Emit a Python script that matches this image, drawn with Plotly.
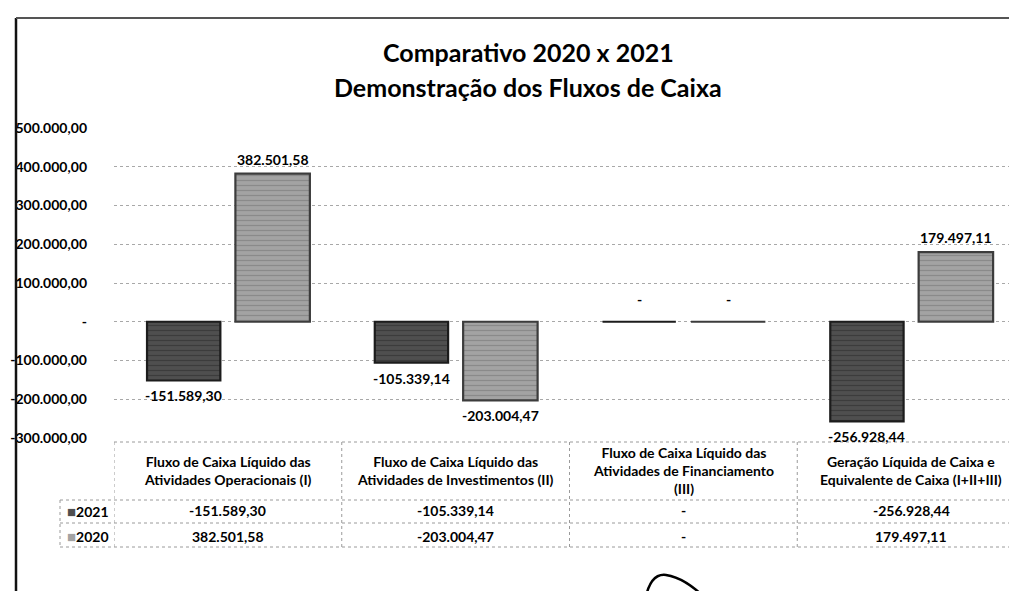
import plotly.graph_objects as go

# ---------------- data ----------------
categories = [
    "Fluxo de Caixa Líquido das<br>Atividades Operacionais (I)",
    "Fluxo de Caixa Líquido das<br>Atividades de Investimentos (II)",
    "Fluxo de Caixa Líquido das<br>Atividades de Financiamento<br>(III)",
    "Geração Líquida de Caixa e<br>Equivalente de Caixa (I+II+III)",
]
series_names = ["2021", "2020"]
values_2021 = [-151589.30, -105339.14, 0.0, -256928.44]
values_2020 = [382501.58, -203004.47, 0.0, 179497.11]
tick_values = [-300000, -200000, -100000, 0, 100000, 200000, 300000, 400000, 500000]
tick_labels = ["-300.000,00", "-200.000,00", "-100.000,00", "-", "100.000,00",
               "200.000,00", "300.000,00", "400.000,00", "500.000,00"]
title_lines = ["Comparativo 2020 x 2021", "Demonstração dos Fluxos de Caixa"]

# ---------------- layout helpers ----------------
W, H = 1017, 591
L, R, T, B = 106, 0, 120, 161
PW = W - L - R
PH = H - T - B
FONT = "Lato"


def yp(pix):
    """pixel row -> paper y"""
    return (H - B - pix) / PH


def xp(pix):
    """pixel column -> paper x"""
    return (pix - L) / PW


def fmt(v):
    if v == 0:
        return "-"
    s = f"{abs(v):,.2f}".replace(",", "X").replace(".", ",").replace("X", ".")
    return ("-" if v < 0 else "") + s


xs = list(range(len(categories)))
bar_specs = [
    dict(name=series_names[0], vals=values_2021, offset=-0.355, width=0.322,
         color="#4f4f4f", line="#1c1c1c", pat="#2e2e2e"),
    dict(name=series_names[1], vals=values_2020, offset=0.033, width=0.327,
         color="#a3a3a3", line="#3c3c3c", pat="#7a7a7a"),
]

fig = go.Figure()
for s in bar_specs:
    fig.add_trace(go.Bar(
        x=xs, y=s["vals"], name=s["name"], offset=s["offset"], width=s["width"],
        marker=dict(color=s["color"], line=dict(color=s["line"], width=2.2),
                    pattern=dict(shape="-", fgcolor=s["pat"], size=5, solidity=0.25,
                                 fgopacity=0.6)),
        showlegend=False, hoverinfo="skip",
    ))

annotations = []
# value labels
for s in bar_specs:
    for i, v in enumerate(s["vals"]):
        cx = i + s["offset"] + s["width"] / 2
        if v > 0:
            annotations.append(dict(x=cx, y=v, text=fmt(v), yanchor="bottom",
                                    yshift=4, showarrow=False))
        elif v < 0:
            annotations.append(dict(x=cx, y=v, text=fmt(v), yanchor="top",
                                    yshift=-5, showarrow=False))
        else:
            annotations.append(dict(x=cx, y=v, text=fmt(v), yanchor="bottom",
                                    yshift=12, showarrow=False))
for a in annotations:
    a.update(xref="x", yref="y", font=dict(family=FONT, size=14, color="black",
                                            weight="bold"))

# titles
for line, py in zip(title_lines, [44, 79]):
    annotations.append(dict(x=xp(520), y=yp(py), xref="paper", yref="paper",
                            text=line, showarrow=False, yanchor="middle",
                            xanchor="center",
                            font=dict(family=FONT, size=25, color="black",
                                      weight="bold")))

# table header (category names)
for i, c in enumerate(categories):
    annotations.append(dict(x=i, y=yp(462), xref="x", yref="paper", text=c,
                            showarrow=False, yanchor="middle",
                            font=dict(family=FONT, size=14, color="black",
                                      weight="bold")))

# table rows
row_y = [503, 528]
legend_colors = [bar_specs[0]["color"], bar_specs[1]["color"]]
for r, (s, py) in enumerate(zip(bar_specs, row_y)):
    annotations.append(dict(
        x=xp(103), y=yp(py), xref="paper", yref="paper", xanchor="right",
        yanchor="middle", showarrow=False,
        text=f"<span style='color:{legend_colors[r]};font-size:15px'>■</span>{s['name']}",
        font=dict(family=FONT, size=14, color="black", weight="bold")))
    for i, v in enumerate(s["vals"]):
        annotations.append(dict(x=i, y=yp(py), xref="x", yref="paper",
                                text=fmt(v), showarrow=False, yanchor="middle",
                                font=dict(family=FONT, size=14, color="black",
                                          weight="bold")))

shapes = []
dot = dict(color="#9a9a9a", width=1, dash="dot")
# horizontal table lines
for py, x0pix in [(434, L), (492, 52), (515, 52), (539, 52)]:
    shapes.append(dict(type="line", xref="paper", yref="paper", x0=xp(x0pix), x1=1,
                       y0=yp(py), y1=yp(py), line=dot))
# vertical table lines
for k in range(4):
    shapes.append(dict(type="line", xref="x", yref="paper", x0=k - 0.5, x1=k - 0.5,
                       y0=yp(434), y1=yp(539), line=dot))
shapes.append(dict(type="line", xref="paper", yref="paper", x0=xp(52), x1=xp(52),
                   y0=yp(492), y1=yp(539), line=dot))
# outer frame (left and top)
shapes.append(dict(type="line", xref="paper", yref="paper", x0=xp(8), x1=xp(8),
                   y0=yp(10), y1=yp(H), line=dict(color="#111", width=2.5)))
shapes.append(dict(type="line", xref="paper", yref="paper", x0=xp(8), x1=1,
                   y0=yp(10), y1=yp(10), line=dict(color="#555", width=2)))
# hand-drawn mark at the bottom
path = (f"M {xp(637)},{yp(593)} Q {xp(642)},{yp(565)} {xp(658)},{yp(567)} "
        f"Q {xp(678)},{yp(570)} {xp(700)},{yp(593)}")
shapes.append(dict(type="path", xref="paper", yref="paper", path=path,
                   line=dict(color="black", width=2.5)))

fig.update_layout(
    width=W, height=H, margin=dict(l=L, r=R, t=T, b=B),
    paper_bgcolor="white", plot_bgcolor="white",
    xaxis=dict(range=[-0.5, 3.5], showticklabels=False, showgrid=False,
               zeroline=False, showline=False, fixedrange=True),
    yaxis=dict(range=[-300000, 500000], tickvals=tick_values, ticktext=tick_labels,
               showgrid=True, gridcolor="#a8a8a8", griddash="dot", gridwidth=1,
               zeroline=False, showline=False, ticks="", ticklabelstandoff=26,
               tickfont=dict(family=FONT, size=14, color="black", weight="bold")),
    annotations=annotations, shapes=shapes,
)

fig.write_html("out.html")
